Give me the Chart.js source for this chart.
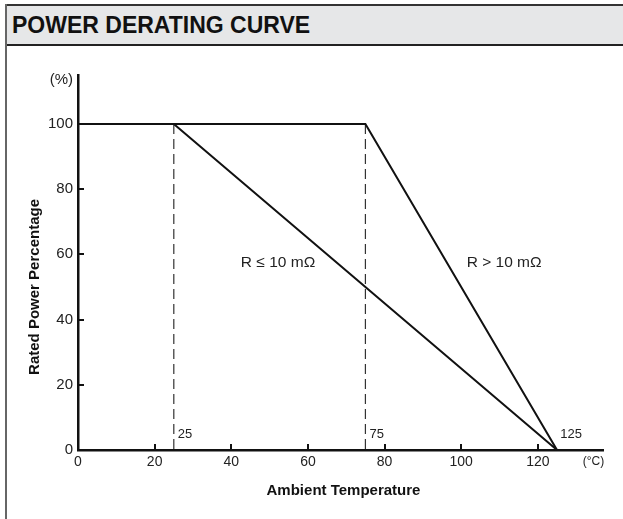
<!DOCTYPE html>
<html>
<head>
<meta charset="utf-8">
<title>Power Derating Curve</title>
<script src="https://cdn.jsdelivr.net/npm/chart.js@4.4.1/dist/chart.umd.min.js"></script>
<style>
  html, body { margin: 0; padding: 0; background: #fff; }
  body { width: 623px; height: 519px; position: relative; overflow: hidden; font-family: "Liberation Sans", Arial, sans-serif; }
  .frame-left { position: absolute; left: 5px; top: 4px; width: 2px; height: 515px; background: #666; }
  .header {
    position: absolute; left: 5px; top: 4px; width: 618px; height: 38px;
    background: #e6e7e8; border-top: 2px solid #333; border-bottom: 2px solid #222;
  }
  .header h1 {
    margin: 0; padding-left: 7px;
    font: bold 23px "Liberation Sans", Arial, sans-serif; line-height: 38px;
    color: #111;
  }
  #chart { position: absolute; left: 0; top: 0; }
</style>
</head>
<body>
<div class="header"><h1>POWER DERATING CURVE</h1></div>
<div class="frame-left"></div>
<canvas id="chart" width="623" height="519"></canvas>
<script>
// Derating curves: rated power (%) vs. ambient temperature (°C)
const tempLowR = [0, 25, 125];
const powerLowR = [100, 100, 0];
const tempHighR = [0, 75, 125];
const powerHighR = [100, 100, 0];
const kneeTemps = [25, 75];

const xTickValues = [0, 20, 40, 60, 80, 100, 120, 134.5];
const xTickLabels = ["0", "20", "40", "60", "80", "100", "120", "(°C)"];
const yTickValues = [0, 20, 40, 60, 80, 100, 113.5];
const yTickLabels = ["0", "20", "40", "60", "80", "100", "(%)"];

// text placed in data coordinates: [x, y, text, align, size]
const curveLabels = [
  [52.2, 57.4, "R ≤ 10 mΩ", "center", 15.5],
  [111.2, 57.4, "R > 10 mΩ", "center", 15.5],
];
const kneeLabels = [
  [25, 4.8, "25", "left", 13],
  [75, 4.8, "75", "left", 13],
  [128.7, 4.8, "125", "center", 13],
];

const FONT = '"Liberation Sans", Arial, Helvetica, sans-serif';

const toPoints = (xs, ys) => xs.map((x, i) => ({ x, y: ys[i] }));

const datasets = [
  { data: toPoints(tempLowR, powerLowR), borderColor: "#111", borderWidth: 2 },
  { data: toPoints(tempHighR, powerHighR), borderColor: "#111", borderWidth: 2 },
  ...kneeTemps.map((t) => ({
    data: [{ x: t, y: 100 }, { x: t, y: 0 }],
    borderColor: "#333",
    borderWidth: 1.2,
    borderDash: [10, 5],
  })),
].map((d) => ({ ...d, showLine: true, pointRadius: 0, fill: false, tension: 0 }));

const derateDecor = {
  id: "derateDecor",
  afterDatasetsDraw(chart) {
    const { ctx, chartArea, scales: { x, y } } = chart;
    ctx.save();

    // inward tick marks
    ctx.strokeStyle = "#111";
    ctx.lineWidth = 2;
    ctx.beginPath();
    xTickValues.slice(1, 7).forEach((v) => {
      const px = Math.round(x.getPixelForValue(v));
      ctx.moveTo(px, y.bottom);
      ctx.lineTo(px, y.bottom - 6);
    });
    yTickValues.slice(1, 6).forEach((v) => {
      const py = Math.round(y.getPixelForValue(v));
      ctx.moveTo(x.left, py);
      ctx.lineTo(x.left + 6, py);
    });
    ctx.stroke();

    // curve and knee labels
    ctx.fillStyle = "#222";
    ctx.textBaseline = "middle";
    [...curveLabels, ...kneeLabels].forEach(([vx, vy, text, align, size]) => {
      ctx.font = `${size}px ${FONT}`;
      ctx.textAlign = align;
      const off = align === "left" ? 4 : 0;
      ctx.fillText(text, x.getPixelForValue(vx) + off, y.getPixelForValue(vy));
    });

    // axis titles
    ctx.fillStyle = "#111";
    ctx.font = `bold 15px ${FONT}`;
    ctx.textAlign = "center";
    ctx.fillText("Ambient Temperature", (chartArea.left + chartArea.right) / 2 + 3, 491);
    ctx.translate(35, y.getPixelForValue(50));
    ctx.rotate(-Math.PI / 2);
    ctx.fillText("Rated Power Percentage", 0, 0);

    ctx.restore();
  },
};

new Chart(document.getElementById("chart"), {
  type: "scatter",
  data: { datasets },
  options: {
    responsive: false,
    animation: false,
    layout: { padding: { left: 18, right: 20, top: 75, bottom: 19 } },
    plugins: { legend: { display: false }, tooltip: { enabled: false } },
    scales: {
      x: {
        type: "linear",
        min: 0,
        max: 137,
        afterBuildTicks: (s) => { s.ticks = xTickValues.map((value) => ({ value })); },
        afterFit: (s) => { s.height = 50; },
        grid: { display: false, drawTicks: false },
        border: { display: true, color: "#111", width: 2.5 },
        ticks: {
          padding: 4,
          color: "#222",
          maxRotation: 0,
          autoSkip: false,
          font: (c) => ({ family: FONT, size: c.index === 7 ? 12 : 14 }),
          callback: (v, i) => xTickLabels[i],
        },
      },
      y: {
        type: "linear",
        min: 0,
        max: 115,
        afterBuildTicks: (s) => { s.ticks = yTickValues.map((value) => ({ value })); },
        afterFit: (s) => { s.width = 60; },
        grid: { display: false, drawTicks: false },
        border: { display: true, color: "#111", width: 2.5 },
        ticks: {
          padding: 5,
          color: "#222",
          autoSkip: false,
          font: { family: FONT, size: 15 },
          callback: (v, i) => yTickLabels[i],
        },
      },
    },
  },
  plugins: [derateDecor],
});
</script>
</body>
</html>
